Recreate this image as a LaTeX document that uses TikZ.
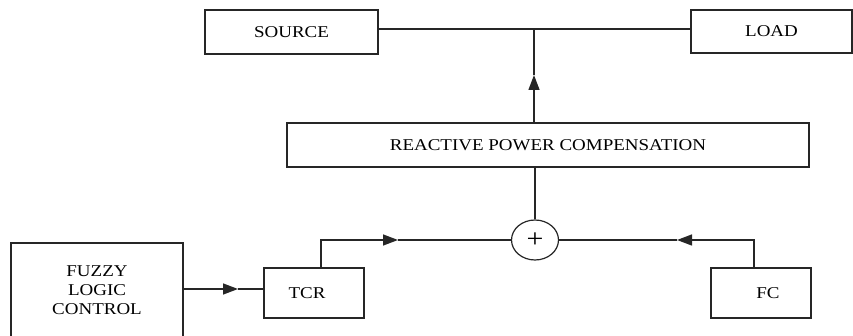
\documentclass[tikz,border=0pt]{standalone}
\usepackage{fontspec}
\setmainfont[FakeStretch=1.15]{Liberation Serif}
\usetikzlibrary{arrows.meta,shapes.geometric}
\begin{document}
\begin{tikzpicture}[x=1pt,y=-1pt,
  every node/.style={font=\fontsize{16.5}{19}\selectfont},
  blk/.style={draw=black!85,line width=1.2pt,rectangle,inner sep=0pt,align=center},
  conn/.style={draw=black!85,line width=1.4pt},
  tip/.style={-{Triangle[length=15pt,width=11pt]}}]
\useasboundingbox (0,0) rectangle (853,336);
\node[blk,minimum width=173pt,minimum height=44pt] (src) at (291.5,32) {SOURCE};
\node[blk,minimum width=161pt,minimum height=43pt] (load) at (771.5,31.5) {LOAD};
\node[blk,minimum width=522pt,minimum height=44pt] (rpc) at (548,145) {REACTIVE POWER COMPENSATION};
\node[blk,minimum width=172pt,minimum height=94pt] (flc) at (97,290) {FUZZY\\LOGIC\\CONTROL};
\node[blk,minimum width=100pt,minimum height=50pt] (tcr) at (314,293) {TCR\hspace*{14pt}};
\node[blk,minimum width=100pt,minimum height=50pt] (fc) at (761,293) {\hspace*{14pt}FC};
\node[draw=black!85,line width=1.2pt,ellipse,inner sep=0pt,minimum width=47pt,minimum height=40pt,font=\fontsize{26}{26}\selectfont] (sum) at (535,240) {+};
% coordinates
\coordinate (J) at (534,29);
\coordinate (a1) at (534,75);
\coordinate (a2) at (238,289);
\coordinate (a3) at (398,240);
\coordinate (a4) at (677,240);
% top bus
\draw[conn] (src.east |- J) -- (load.west |- J);
% RPC to bus
\draw[conn,tip] (rpc.north -| J) -- (a1);
\draw[conn] (a1) -- (J);
% sum to RPC
\draw[conn] (sum.north) -- (rpc.south -| sum.north);
% FLC to TCR
\draw[conn,tip] (flc.east |- a2) -- (a2);
\draw[conn] (a2) -- (tcr.west |- a2);
% TCR to sum
\draw[conn,tip] ([xshift=7pt]tcr.north) |- (a3);
\draw[conn] (a3) -- (sum.west);
% FC to sum
\draw[conn,tip] ([xshift=-7pt]fc.north) |- (a4);
\draw[conn] (a4) -- (sum.east);
\end{tikzpicture}
\end{document}
